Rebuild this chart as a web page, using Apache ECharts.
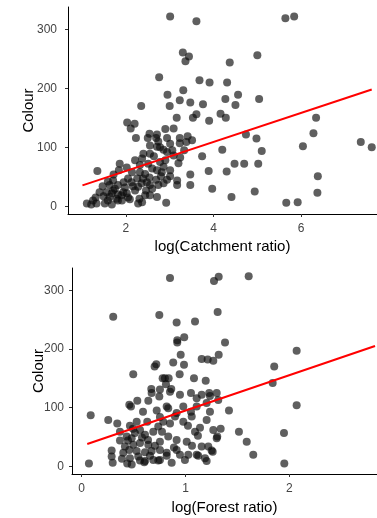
<!DOCTYPE html>
<html>
<head>
<meta charset="utf-8">
<script src="https://cdn.jsdelivr.net/npm/echarts@6/dist/echarts.min.js"></script>
<style>
  html, body { margin: 0; padding: 0; background: #fff; }
  #chart { width: 377px; height: 518px; }
</style>
</head>
<body>
<div id="chart"></div>
<script>
// log(Catchment ratio) vs Colour
const catchmentPoints = [
  [3.01,322],[3.61,314],[3.30,261],[3.44,254],[3.36,246],[2.76,219],[3.68,214],[3.91,210],
  [3.31,197],[2.95,189],[3.23,180],[3.47,176],[3.76,173],[2.35,170],[3.00,170],[4.16,157],
  [3.61,156],[3.53,150],[3.16,150],[3.90,145],[2.03,142],[2.20,140],[2.11,132],[2.90,131],
  [3.09,132],[5.64,319],[5.84,322],[5.00,256],[4.37,244],[4.31,210],[4.27,182],[4.56,189],
  [4.50,172],[5.04,182],[4.28,150],[6.34,150],[2.23,116],[2.54,123],[2.71,122],[2.50,116],
  [2.69,116],[2.94,116],[3.23,116],[3.41,119],[3.01,106],[3.23,107],[3.38,109],[3.51,112],
  [2.71,101],[2.78,100],[2.86,96],[2.40,89],[2.55,89],[2.64,85],[2.94,92],[3.09,86],
  [3.24,83],[3.74,85],[1.86,72],[2.32,70],[2.51,72],[2.78,75],[2.86,67],[3.20,73],
  [2.71,61],[2.82,58],[3.01,61],[1.35,60],[3.89,60],[2.44,55],[2.54,49],[3.17,44],
  [3.47,54],[1.71,44],[2.13,41],[2.26,47],[2.36,39],[2.69,45],[2.94,45],[1.63,36],
  [1.82,36],[2.28,33],[2.55,36],[2.86,39],[3.17,36],[3.47,36],[1.40,24],[1.56,24],
  [1.71,27],[1.94,24],[2.21,27],[2.46,27],[1.63,16],[1.79,13],[1.90,19],[2.05,15],
  [2.31,13],[2.55,19],[1.11,5],[1.21,3],[1.33,5],[1.25,10],[1.82,10],[2.28,5],
  [2.71,16],[2.92,6],[3.97,30],[4.74,122],[4.98,115],[6.28,124],[6.04,102],[7.36,109],
  [7.61,100],[4.20,96],[5.10,94],[4.48,72],[4.70,72],[5.02,72],[4.30,59],[6.38,51],
  [4.94,25],[6.37,23],[4.41,16],[5.66,6],[5.92,7],
  [1.49,17],[1.59,10],[1.68,22],[1.75,30],[1.82,20],[1.91,10],[1.98,32],[2.02,22],
  [2.09,12],[2.16,34],[1.95,41],[2.05,47],[2.14,58],[2.32,58],[2.39,47],[2.48,41],
  [2.60,30],[2.74,36],[2.80,51],[3.01,51],[2.44,19],[1.47,34],[1.31,15],[1.59,42],
  [1.72,54],[1.84,61],[2.02,66],[2.21,78],[2.37,81],[2.60,64],[2.90,78],[3.06,95],
  [3.33,95],[2.55,103],[2.74,110],[1.52,5],[2.37,7],[1.68,3]
];
const catchmentFitX = [1.01, 7.61];
const catchmentFitY = [35.6, 198];
const catchmentTicks = [2, 4, 6];

// log(Forest ratio) vs Colour
const forestPoints = [
  [0.851,321],[1.275,316],[1.320,323],[1.609,324],[0.304,255],[0.748,258],[0.915,245],[1.092,247],
  [1.310,263],[0.921,215],[0.921,211],[0.988,220],[0.954,190],[1.156,183],[1.214,182],[1.268,180],
  [1.320,190],[1.381,211],[0.719,174],[0.703,170],[0.882,177],[0.986,173],[0.497,157],[0.944,157],
  [0.780,150],[0.802,150],[0.838,150],[1.082,150],[1.195,146],[0.812,140],[0.671,132],[0.754,131],
  [0.863,132],[2.071,197],[1.855,170],[1.840,142],[0.087,87],[0.070,5],[0.256,79],[0.343,73],
  [0.459,105],[0.475,102],[0.536,112],[0.642,112],[0.723,95],[0.674,125],[0.748,119],[0.851,127],
  [0.819,102],[0.947,122],[0.979,102],[1.053,125],[1.108,116],[1.156,122],[1.229,125],[1.301,125],
  [1.316,113],[1.204,108],[1.108,102],[1.053,93],[0.915,91],[0.834,99],[0.632,76],[0.530,76],
  [0.465,69],[0.562,62],[0.369,44],[0.434,51],[0.482,48],[0.610,54],[0.690,59],[0.738,68],
  [0.786,76],[0.899,85],[0.979,76],[1.060,85],[1.092,59],[1.204,79],[1.268,62],[1.306,51],
  [0.915,45],[1.012,42],[0.754,42],[0.834,51],[0.642,37],[0.562,40],[0.497,37],[0.459,28],
  [0.530,26],[0.401,23],[0.289,27],[0.289,17],[0.299,6],[0.465,14],[0.545,17],[0.610,9],
  [0.690,11],[0.754,11],[0.819,23],[0.867,6],[0.947,20],[0.915,28],[0.995,11],[1.027,20],
  [1.108,20],[1.204,9],[1.188,14],[0.754,28],[0.674,26],[0.610,24],[0.439,5],[0.482,3],
  [1.156,34],[1.220,34],[1.262,25],[1.590,42],[1.653,20],[1.952,5],[1.236,120],[1.236,93],
  [1.419,95],[2.071,104],[1.339,64],[1.301,48],[1.515,59],[1.949,57],[1.252,27],[0.603,7],
  [0.738,10],[0.819,18],[1.123,18],
  [0.446,44],[0.513,57],[0.581,49],[0.417,34],[0.639,45],[0.706,35],[0.388,13],[0.562,10],
  [0.658,18],[0.494,64],[0.369,59],[0.774,59],[0.851,73],[1.024,69],[1.140,66],[0.889,32],
  [1.063,35],[1.120,52],[0.591,93],[0.754,84]
];
const forestFitX = [0.054, 2.826];
const forestFitY = [38, 205];
const forestTicks = [0, 1, 2];

const colourTicks = [0, 100, 200, 300];

const FONT = "'Liberation Sans', Arial, sans-serif";

function fitLine(xs, ys) {
  return xs.map((x, i) => [x, ys[i]]);
}

function xAxisFor(gridIndex, min, max, ticks, name, gap) {
  return {
    gridIndex: gridIndex,
    type: "value",
    min: min,
    max: max,
    name: name,
    nameLocation: "middle",
    nameGap: gap,
    nameMoveOverlap: false,
    nameTextStyle: { color: "#000", fontSize: 15, fontFamily: FONT },
    axisLine: { show: true, onZero: false, lineStyle: { color: "#000", width: 1 } },
    axisTick: { show: true, length: 3, customValues: ticks, lineStyle: { color: "#333" } },
    axisLabel: { customValues: ticks, color: "#444", fontSize: 12, margin: 9, fontFamily: FONT },
    splitLine: { show: false },
  };
}

function yAxisFor(gridIndex, gap, margin) {
  return {
    gridIndex: gridIndex,
    type: "value",
    min: -13,
    max: 338,
    name: "Colour",
    nameLocation: "middle",
    nameRotate: 90,
    nameGap: gap,
    nameMoveOverlap: false,
    nameTextStyle: { color: "#000", fontSize: 15, fontFamily: FONT },
    axisLine: { show: true, onZero: false, lineStyle: { color: "#000", width: 1 } },
    axisTick: { show: true, length: 3, customValues: colourTicks, lineStyle: { color: "#333" } },
    axisLabel: { customValues: colourTicks, color: "#444", fontSize: 12, margin: margin, fontFamily: FONT },
    splitLine: { show: false },
  };
}

const chart = echarts.init(document.getElementById("chart"), null, { renderer: "canvas" });

const option = {
  animation: false,
  backgroundColor: "#fff",
  grid: [
    { left: 68, right: 0, top: 7, height: 207 },
    { left: 72, right: 0, top: 268, height: 206 },
  ],
  xAxis: [
    xAxisFor(0, 0.68, 7.73, catchmentTicks, "log(Catchment ratio)", 25),
    xAxisFor(1, -0.093, 2.845, forestTicks, "log(Forest ratio)", 26),
  ],
  yAxis: [
    yAxisFor(0, 32, 11),
    yAxisFor(1, 26, 8),
  ],
  series: [
    {
      type: "scatter",
      xAxisIndex: 0,
      yAxisIndex: 0,
      data: catchmentPoints,
      symbolSize: 8,
      itemStyle: { color: "rgba(10,10,10,0.82)" },
    },
    {
      type: "line",
      xAxisIndex: 0,
      yAxisIndex: 0,
      data: fitLine(catchmentFitX, catchmentFitY),
      showSymbol: false,
      lineStyle: { color: "#ff0000", width: 2 },
      z: 5,
    },
    {
      type: "scatter",
      xAxisIndex: 1,
      yAxisIndex: 1,
      data: forestPoints,
      symbolSize: 8,
      itemStyle: { color: "rgba(10,10,10,0.82)" },
    },
    {
      type: "line",
      xAxisIndex: 1,
      yAxisIndex: 1,
      data: fitLine(forestFitX, forestFitY),
      showSymbol: false,
      lineStyle: { color: "#ff0000", width: 2 },
      z: 5,
    },
  ],
};

chart.setOption(option);
</script>
</body>
</html>
